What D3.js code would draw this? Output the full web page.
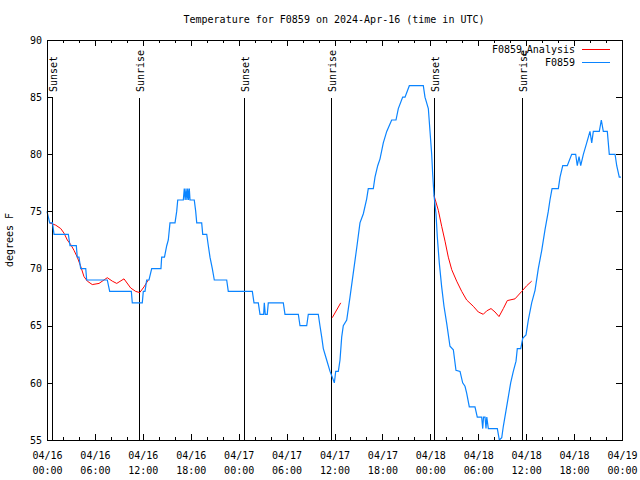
<!DOCTYPE html>
<html><head><meta charset="utf-8">
<script src="https://cdn.jsdelivr.net/npm/d3@7"></script>
<style>
body{margin:0;background:#fff}
svg text{font-family:"DejaVu Sans Mono","Liberation Mono",monospace;font-size:10px;fill:#000}
</style>
</head><body>
<svg id="chart" width="640" height="480"></svg>
<script>
// ---------------- data ----------------
const chartTitle = "Temperature for F0859 on 2024-Apr-16 (time in UTC)";
const yAxisLabel = "degrees F";
const xTickHours = [0,6,12,18,24,30,36,42,48,54,60,66,72];
const xTickDates = ["04/16","04/16","04/16","04/16","04/17","04/17","04/17","04/17","04/18","04/18","04/18","04/18","04/19"];
const xTickTimes = ["00:00","06:00","12:00","18:00","00:00","06:00","12:00","18:00","00:00","06:00","12:00","18:00","00:00"];
const yTicks = [55,60,65,70,75,80,85,90];
const sunEventHours = [0.63, 11.52, 24.67, 35.56, 48.51, 59.48];
const sunEventNames = ["Sunset","Sunrise","Sunset","Sunrise","Sunset","Sunrise"];

// observed F0859 (hours since 04/16 00:00 UTC, deg F)
const obsHours = [0,0.34,0.69,0.88,2.67,2.88,3.67,3.79,4.0,4.22,4.85,4.97,7.55,7.85,10.56,10.68,11.93,12.06,12.27,12.48,12.77,13.11,14.27,14.36,14.71,14.99,15.19,15.40,16.03,16.24,16.37,17.07,17.19,17.30,17.41,17.52,17.62,17.72,17.82,17.91,18.44,18.62,18.75,19.37,19.50,20.00,20.20,20.41,20.70,20.95,22.50,22.70,25.71,25.92,26.46,26.67,27.13,27.21,27.33,27.58,27.71,29.59,29.80,31.47,31.68,32.52,32.72,33.97,34.18,34.40,34.60,35.02,35.44,35.72,35.98,36.15,36.48,36.69,36.90,37.10,37.53,37.94,38.35,38.78,39.19,39.61,40.03,40.23,40.86,41.07,41.41,41.70,42.11,42.54,43.16,43.70,43.99,44.54,44.83,45.37,47.12,47.33,47.75,47.96,48.17,48.30,48.46,48.71,48.87,49.12,49.42,49.71,50.05,50.46,50.88,51.21,51.72,52.05,52.34,52.55,52.88,53.59,53.88,54.43,54.56,54.66,54.85,54.97,55.07,55.26,56.39,56.64,56.94,57.14,57.48,57.77,58.06,58.39,58.73,58.89,59.32,59.57,59.98,60.27,60.69,61.11,61.52,61.95,62.36,62.77,62.98,63.24,64.03,64.24,64.58,65.15,65.70,66.20,66.40,66.62,66.83,67.16,67.58,67.99,68.21,68.41,69.16,69.41,69.66,70.16,70.41,71.13,71.34,71.66,71.87];
const obsTemps = [75,74,74,73,73,72,72,71,71,70,70,69,69,68,68,67,67,68,68,69,69,70,70,71,71,72,72.5,74,74,75,76,76,77,76,77,76,77,76,77,76,76,75,74,74,73,73,72,71,70,69,69,68,68,67,67,66,66,67,66,66,67,67,66,66,65,65,66,66,65,64,63,62,61,60.5,60,61,61,62,64,65,65.5,67.5,69.6,71.8,74,74.8,76.1,77,77,78,79,79.6,81,82,83,83,84,85,85,86,86,85,84,82,80,78.2,76.4,74.8,72.8,70.5,68.4,66.7,65.2,63.2,62.9,61.1,61,60,59.7,59.1,57.9,57.9,57,57,56,57,57,56,57,56,56,55,55.2,56.2,57.6,58.8,60,61,61.9,63,63,63.9,64.2,65.5,67,68.1,70,71.6,73.4,75,76,77,77,78,79,79,80,80,79,79.8,79,80,81,82,81,82,82,83,82,82,80,80,79,78,78];

// F0859 analysis (null = gap)
const anaHours = [0.31,1.09,1.72,2.13,2.54,2.97,3.38,3.79,4.22,4.63,5.05,5.67,6.51,7.55,8.18,8.73,9.64,10.48,11.11,11.61,12.15,12.68,null,35.72,36.78,null,48.46,49.0,49.42,49.84,50.25,50.68,51.30,51.93,52.55,53.38,54.01,54.63,55.06,55.60,56.10,56.60,57.14,57.64,58.60,59.44,60.07,60.69];
const anaTemps = [74.0,73.8,73.5,73.1,72.5,72.1,71.6,71.0,70.2,69.3,68.9,68.6,68.7,69.2,68.9,68.7,69.1,68.3,68.0,67.9,68.4,69.0,null,65.7,67.0,null,76.4,75.1,73.7,72.4,71.0,69.9,68.9,68.0,67.25,66.7,66.2,66.0,66.3,66.5,66.2,65.8,66.5,67.2,67.35,68.0,68.5,68.9];

// ---------------- drawing ----------------
const svg = d3.select("#chart");
const L = 47, R = 622, T = 40, B = 440;
const x = d3.scaleLinear().domain([0,72]).range([L,R]);
const y = d3.scaleLinear().domain([55,90]).range([B,T]);
const BLUE = "#0a84ff", RED = "#ff0000";

svg.append("text").attr("x",334).attr("y",23).attr("text-anchor","middle").text(chartTitle);

const minorHours = d3.range(0,73,2);

function styleAxis(g){
  g.select(".domain").remove();
  g.selectAll("line").attr("stroke","#000").attr("shape-rendering","crispEdges");
}
// bottom
svg.append("g").attr("transform",`translate(0,${B})`)
  .call(d3.axisBottom(x).tickValues(minorHours.filter(h=>h%6)).tickSizeInner(-3).tickSizeOuter(0).tickFormat(""))
  .call(styleAxis);
const bx = svg.append("g").attr("transform",`translate(0,${B})`)
  .call(d3.axisBottom(x).tickValues(xTickHours).tickSizeInner(-6).tickSizeOuter(0).tickFormat(""))
  .call(styleAxis);
bx.selectAll(".tick").each(function(d,i){
  const t = d3.select(this).append("text").attr("text-anchor","middle").attr("fill","#000");
  t.append("tspan").attr("x",0).attr("y",19).text(xTickDates[i]);
  t.append("tspan").attr("x",0).attr("y",34).text(xTickTimes[i]);
});
// top mirror
svg.append("g").attr("transform",`translate(0,${T})`)
  .call(d3.axisTop(x).tickValues(minorHours.filter(h=>h%6)).tickSizeInner(-3).tickSizeOuter(0).tickFormat(""))
  .call(styleAxis);
svg.append("g").attr("transform",`translate(0,${T})`)
  .call(d3.axisTop(x).tickValues(xTickHours).tickSizeInner(-6).tickSizeOuter(0).tickFormat(""))
  .call(styleAxis);
// left
const ly = svg.append("g").attr("transform",`translate(${L},0)`)
  .call(d3.axisLeft(y).tickValues(yTicks).tickSizeInner(-6).tickSizeOuter(0).tickPadding(5))
  .call(styleAxis);
ly.selectAll("text").attr("x",-5).attr("fill","#000").style("font-size","10px");
// right mirror
svg.append("g").attr("transform",`translate(${R},0)`)
  .call(d3.axisRight(y).tickValues(yTicks).tickSizeInner(-6).tickSizeOuter(0).tickFormat(""))
  .call(styleAxis);

// y label
svg.append("text").attr("transform","translate(13,240) rotate(-90)").attr("text-anchor","middle").text(yAxisLabel);

// sunrise / sunset lines
sunEventHours.forEach((h,i)=>{
  const xp = Math.round(x(h))+0.5;
  svg.append("line").attr("x1",xp).attr("x2",xp).attr("y1",98).attr("y2",B)
    .attr("stroke","#000").attr("stroke-width",1).attr("shape-rendering","crispEdges");
  svg.append("text").attr("transform",`translate(${xp+4},92) rotate(-90)`)
    .attr("text-anchor","start").text(sunEventNames[i]);
});

// series
const obs = obsHours.map((h,i)=>[h,obsTemps[i]]);
const ana = anaHours.map((h,i)=>[h,anaTemps[i]]);
const line = d3.line().defined(d=>d[0]!==null && d[1]!==null).x(d=>x(d[0])).y(d=>y(d[1]));
svg.append("path").datum(ana).attr("d",line).attr("fill","none").attr("stroke",RED).attr("stroke-width",1);
svg.append("path").datum(obs).attr("d",line).attr("fill","none").attr("stroke",BLUE).attr("stroke-width",1.2);

// frame
svg.append("rect").attr("x",L+0.5).attr("y",T+0.5).attr("width",R-L).attr("height",B-T)
  .attr("fill","none").attr("stroke","#000").attr("shape-rendering","crispEdges");

// legend
const lg = svg.append("g");
const t1 = lg.append("text").attr("x",575).attr("y",53).attr("text-anchor","end");
t1.append("tspan").text("F0859");
t1.append("tspan").attr("dy",3).style("font-size","8px").text("u");
t1.append("tspan").attr("dy",-3).text("Analysis");
lg.append("line").attr("x1",582).attr("x2",610).attr("y1",49.5).attr("y2",49.5).attr("stroke",RED);
lg.append("text").attr("x",575).attr("y",66).attr("text-anchor","end").text("F0859");
lg.append("line").attr("x1",582).attr("x2",610).attr("y1",62.5).attr("y2",62.5).attr("stroke",BLUE);
</script>
</body></html>
